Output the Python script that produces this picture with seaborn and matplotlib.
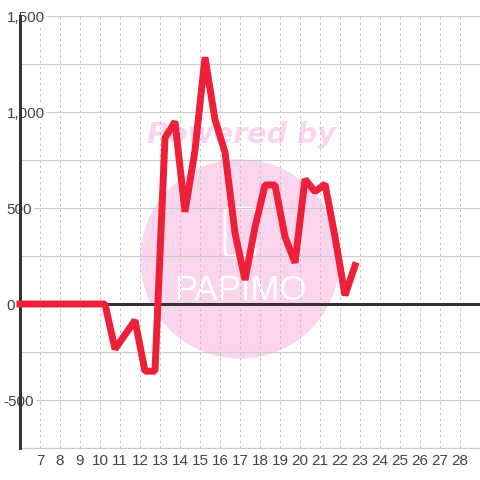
import numpy as np
import pandas as pd
import matplotlib.pyplot as plt
import seaborn as sns
from matplotlib.patches import Circle, FancyBboxPatch

days = [6, 6.75, 7.25, 7.75, 8.25, 8.75, 9.25, 9.75, 10.25, 10.75, 11.25, 11.75, 12.25, 12.75,
        13.25, 13.75, 14.25, 14.75, 15.25, 15.75, 16.25, 16.75, 17.25, 17.75, 18.25, 18.75,
        19.25, 19.75, 20.25, 20.75, 21.25, 21.75, 22.25, 22.75]
values = [0, 0, 0, 0, 0, 0, 0, 0, 0, -235, -160, -85, -350, -350,
          865, 950, 480, 800, 1285, 960, 790, 370, 125, 400, 620, 620,
          350, 215, 650, 585, 625, 350, 45, 200]
x_ticks = list(range(7, 29))
y_ticks = [-500, 0, 500, 1000, 1500]
y_labels = ['-500', '0', '500', '1,000', '1,500']
y_minor = [-750, -250, 250, 750, 1250]

df = pd.DataFrame({'day': days, 'value': values})

sns.set_style('white')
plt.rcParams['font.family'] = ['Liberation Sans', 'DejaVu Sans']

fig = plt.figure(figsize=(4.8, 4.8), dpi=100)
ax = fig.add_axes([20 / 480, 32 / 480, 460 / 480, 432 / 480])
ax.set_xlim(6, 29)
ax.set_ylim(-750, 1500)
ax.patch.set_alpha(0)
ax.set_zorder(1)

# watermark, drawn in figure pixels behind the axes
pink = '#fbd5ee'
fig.patches.append(Circle((240, 480 - 259), 99, color=pink, zorder=0, transform=None))
fig.patches.append(FancyBboxPatch((225, 480 - 256), 30, 48, boxstyle='round,pad=0,rounding_size=5',
                                  fc='none', ec='white', lw=2, zorder=0.4, transform=None))
fig.text(241 / 480, 1 - 135 / 480, 'Powered by', color=pink, fontsize=20.5, weight='bold',
         style='italic', family='DejaVu Sans', ha='center', va='center', zorder=0.5)
fig.text(240 / 480, 1 - 290 / 480, 'PAPIMO', color='white', fontsize=25,
         ha='center', va='center', zorder=0.5)

ax.set_xticks(x_ticks)
ax.set_yticks(y_ticks)
ax.set_yticks(y_minor, minor=True)
ax.set_yticklabels(y_labels)
ax.grid(True, axis='y', which='both', color='#cccccc', lw=0.8)
ax.grid(True, axis='x', color='#c4c4c4', lw=0.72, ls=(0, (2.5, 3)))
ax.set_axisbelow(True)
for side in ['top', 'right', 'bottom']:
    ax.spines[side].set_visible(False)
ax.spines['left'].set_linewidth(2.2)
ax.spines['left'].set_color('#333333')
ax.axhline(0, color='#333333', lw=2.2, zorder=2)
ax.axhline(-750, color='#cccccc', lw=0.8, zorder=1, clip_on=False)

ax.tick_params(axis='both', which='both', length=0, labelsize=11, labelcolor='#444444')
ax.tick_params(axis='x', pad=4)
for lab, txt in zip(ax.get_yticklabels(), y_labels):
    lab.set_ha('left')
    lab.set_x((-12 if txt == '-500' else -8.5) / 460)
    lab.set_bbox(dict(facecolor='white', edgecolor='none', pad=1.5))
    lab.set_zorder(5)

sns.lineplot(data=df, x='day', y='value', ax=ax, color='#ee2038', lw=5, zorder=3,
             errorbar=None, estimator=None, sort=False,
             solid_joinstyle='bevel', solid_capstyle='projecting')
ax.lines[-1].set_clip_on(False)
ax.set_xlabel('')
ax.set_ylabel('')

fig.savefig('out.png', dpi=100)
